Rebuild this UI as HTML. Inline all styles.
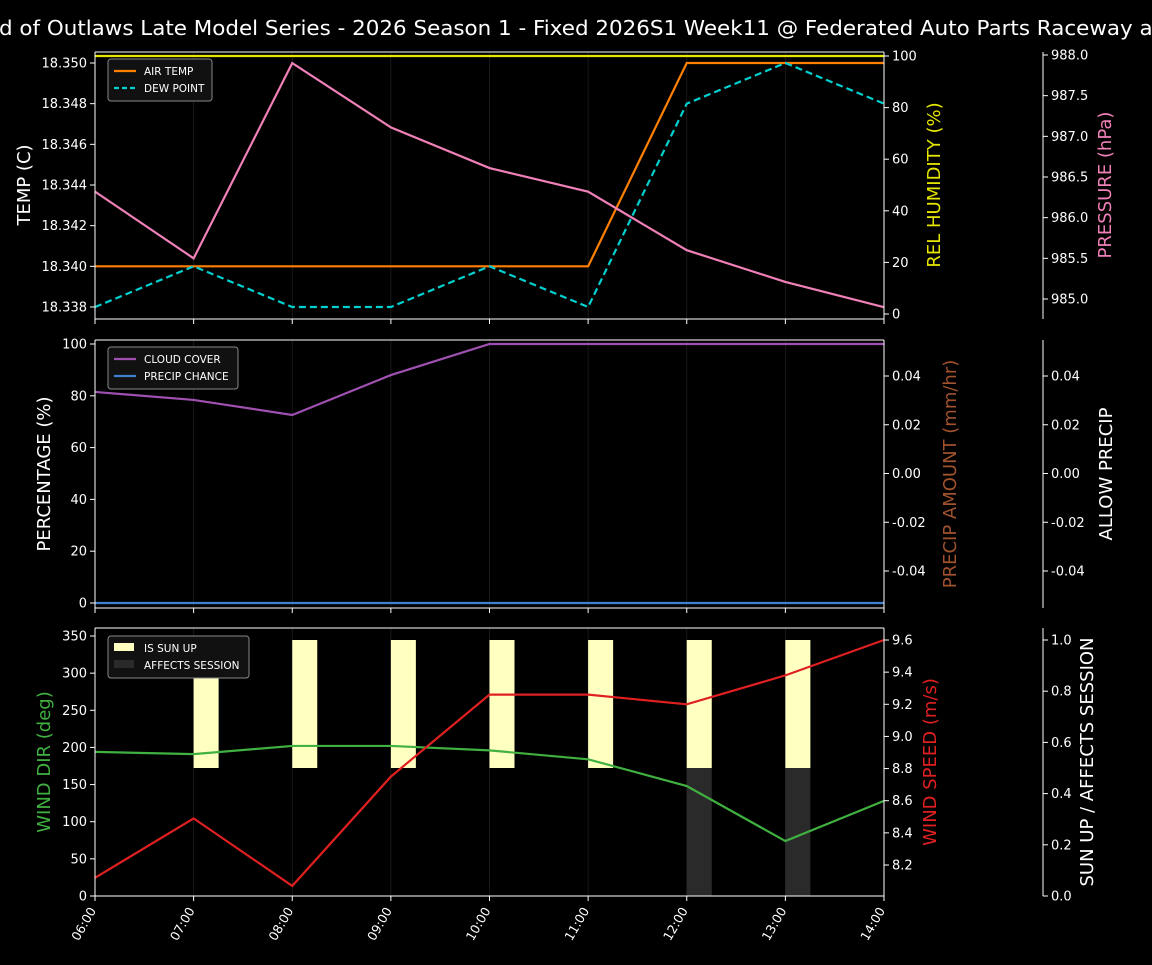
<!DOCTYPE html>
<html><head><meta charset="utf-8"><style>
body{margin:0;background:#000;width:1152px;height:960px;overflow:hidden;font-family:"Liberation Sans","DejaVu Sans",sans-serif}
svg text{font-family:"DejaVu Sans","Liberation Sans",sans-serif}
</style></head><body>
<svg id="c" width="1152" height="960" xmlns="http://www.w3.org/2000/svg">
<text x="-1" y="35" fill="#fff" font-size="20" textLength="1162" lengthAdjust="spacingAndGlyphs">d of Outlaws Late Model Series - 2026 Season 1 - Fixed 2026S1 Week11 @ Federated Auto Parts Raceway at</text>
</svg>
<script>
const hours=["06:00","07:00","08:00","09:00","10:00","11:00","12:00","13:00","14:00"];
const airTemp=[18.340,18.340,18.340,18.340,18.340,18.340,18.350,18.350,18.350];
const dewPoint=[18.338,18.340,18.338,18.338,18.340,18.338,18.348,18.350,18.348];
const humidity=[100,100,100,100,100,100,100,100,100];
const pressure=[986.32,985.50,987.90,987.11,986.61,986.32,985.60,985.21,984.90];
const cloudCover=[81.5,78.4,72.6,88,100,100,100,100,100];
const precipChance=[0,0,0,0,0,0,0,0,0];
const windDir=[194,191,202,202,196,184,148,74,128];
const windSpeed=[8.12,8.49,8.07,8.75,9.26,9.26,9.20,9.38,9.60];
const sunUp=[0,1,1,1,1,1,1,1,0];
const affects=[0,0,0,0,0,0,1,1,0];
const tempTicks=[18.338,18.340,18.342,18.344,18.346,18.348,18.350];
const humTicks=[0,20,40,60,80,100];
const presTicks=[985.0,985.5,986.0,986.5,987.0,987.5,988.0];
const pctTicks=[0,20,40,60,80,100];
const precTicks=[-0.04,-0.02,0.00,0.02,0.04];
const dirTicks=[0,50,100,150,200,250,300,350];
const spdTicks=[8.2,8.4,8.6,8.8,9.0,9.2,9.4,9.6];
const sunTicks=[0,0.2,0.4,0.6,0.8,1.0];

const svg=document.getElementById('c');const NS="http://www.w3.org/2000/svg";
function mk(t,a,txt){const e=document.createElementNS(NS,t);for(const k in a)e.setAttribute(k,a[k]);if(txt!==undefined)e.textContent=txt;svg.appendChild(e);return e;}
const X0=95,X1=884;
const xs=i=>X0+(X1-X0)*i/(hours.length-1);
const lin=(d0,d1,r0,r1)=>v=>r0+(v-d0)/(d1-d0)*(r1-r0);
function line(data,sc,color,name,dash){
  const p=mk('polyline',{points:data.map((v,i)=>xs(i)+','+sc(v)).join(' '),fill:'none',stroke:color,'stroke-width':2.2,'stroke-dasharray':dash||''});
  
  
}
function frame(top,bot,name){
  const r=mk('rect',{x:X0,y:top,width:X1-X0,height:bot-top,fill:'#000'});
  
  
  hours.forEach((h,i)=>{mk('line',{x1:xs(i),x2:xs(i),y1:top,y2:bot,stroke:'#333','stroke-width':0.8,opacity:0.6});});
}
function axisLeft(ticks,sc,fmt,x){ticks.forEach(t=>{const y=sc(t);mk('line',{x1:x-5,x2:x,y1:y,y2:y,stroke:'#fff'});const e=mk('text',{x:x-8,y:y+4.5,fill:'#fff','font-size':13,'text-anchor':'end'},fmt(t));});}
function axisRight(ticks,sc,fmt,x){ticks.forEach(t=>{const y=sc(t);mk('line',{x1:x,x2:x+5,y1:y,y2:y,stroke:'#fff'});const e=mk('text',{x:x+8,y:y+4.5,fill:'#fff','font-size':13},fmt(t));});}
function vtitle(x,y,txt,color,name){const e=mk('text',{x:x,y:y,fill:color,'font-size':18,'text-anchor':'middle',transform:`rotate(-90 ${x} ${y})`},txt);}
function spines(top,bot,rx2){const s={stroke:'#fff'};mk('line',{x1:X0,x2:X0,y1:top,y2:bot,...s});mk('line',{x1:X1,x2:X1,y1:top,y2:bot,...s});mk('line',{x1:X0,x2:X1,y1:top,y2:top,...s});mk('line',{x1:X0,x2:X1,y1:bot,y2:bot,...s});mk('line',{x1:rx2,x2:rx2,y1:top,y2:bot,...s});
hours.forEach((h,i)=>mk('line',{x1:xs(i),x2:xs(i),y1:bot,y2:bot+5,stroke:'#fff'}));}
function legend(x,y,w,items){const r=mk('rect',{x:x,y:y,width:w,height:items.length*17+8,fill:'#111',stroke:'#888',rx:3});
items.forEach((it,k)=>{const yy=y+12+k*17;if(it.box)mk('rect',{x:x+6,y:yy-5,width:20,height:8,fill:it.c});else mk('line',{x1:x+6,x2:x+28,y1:yy,y2:yy,stroke:it.c,'stroke-width':2.2,'stroke-dasharray':it.d||''});
const t=mk('text',{x:x+36,y:yy+4,fill:'#fff','font-size':10.5},it.t);});}

// Panel 1
const T1=52,B1=319;frame(T1,B1,'temp-panel');
const sT=lin(18.338,18.350,307,63),sH=lin(0,100,314,56),sP=lin(985,988,299,55);
line(humidity,sH,'#e6e600','humidity-line');
line(airTemp,sT,'#ff8000','air-temp-line');
line(dewPoint,sT,'#00d0d0','dew-point-line','7,4');
line(pressure,sP,'#f080b8','pressure-line');
spines(T1,B1,1043);
axisLeft(tempTicks,sT,v=>v.toFixed(3),X0);axisRight(humTicks,sH,v=>v,X1);axisRight(presTicks,sP,v=>v.toFixed(1),1043);
vtitle(30,185,'TEMP (C)','#fff','temp-axis-title');vtitle(940,185,'REL HUMIDITY (%)','#e6e600','humidity-axis-title');vtitle(1111,185,'PRESSURE (hPa)','#f080b8','pressure-axis-title');
legend(108,59,104,[{t:'AIR TEMP',c:'#ff8000'},{t:'DEW POINT',c:'#00d0d0',d:'5,3'}]);

// Panel 2
const T2=340,B2=608;frame(T2,B2,'cloud-panel');
const sC=lin(0,100,603,344),sR=lin(-0.04,0.04,571,376);
line(cloudCover,sC,'#a050b0','cloud-cover-line');
line(precipChance,sC,'#4080d0','precip-chance-line');
spines(T2,B2,1043);
axisLeft(pctTicks,sC,v=>v,X0);axisRight(precTicks,sR,v=>v.toFixed(2),X1);axisRight(precTicks,sR,v=>v.toFixed(2),1043);
vtitle(50,474,'PERCENTAGE (%)','#fff','percentage-axis-title');vtitle(956,474,'PRECIP AMOUNT (mm/hr)','#a0522d','precip-axis-title');vtitle(1112,474,'ALLOW PRECIP','#fff','allow-precip-axis-title');
legend(108,347,130,[{t:'CLOUD COVER',c:'#a050b0'},{t:'PRECIP CHANCE',c:'#4080d0'}]);

// Panel 3
const T3=628,B3=896;frame(T3,B3,'wind-panel');
const sD=lin(0,350,896,636),sS=lin(8.2,9.6,865,640),sU=lin(0,1,896,640);
hours.forEach((h,i)=>{
 if(sunUp[i]){const r=mk('rect',{x:xs(i),y:sU(1),width:25,height:sU(0.5)-sU(1),fill:'#ffffc0'});}
 if(affects[i]){const r=mk('rect',{x:xs(i),y:sU(0.5),width:25,height:sU(0)-sU(0.5),fill:'#2a2a2a'});}
});
line(windDir,sD,'#40b040','wind-dir-line');
line(windSpeed,sS,'#e02020','wind-speed-line');
spines(T3,B3,1043);
axisLeft(dirTicks,sD,v=>v,X0);axisRight(spdTicks,sS,v=>v.toFixed(1),X1);axisRight(sunTicks,sU,v=>v.toFixed(1),1043);
vtitle(50,762,'WIND DIR (deg)','#40b040','wind-dir-axis-title');vtitle(936,762,'WIND SPEED (m/s)','#e02020','wind-speed-axis-title');vtitle(1093,762,'SUN UP / AFFECTS SESSION','#fff','sun-axis-title');
legend(108,636,141,[{t:'IS SUN UP',c:'#ffffc0',box:1},{t:'AFFECTS SESSION',c:'#2a2a2a',box:1}]);
hours.forEach((h,i)=>{const x=xs(i),y=905;const e=mk('text',{x:x-40,y:y+4,fill:'#fff','font-size':12.5,transform:`rotate(-60 ${x} ${y})`,'text-anchor':'start'},h);

});
</script>
</body></html>
